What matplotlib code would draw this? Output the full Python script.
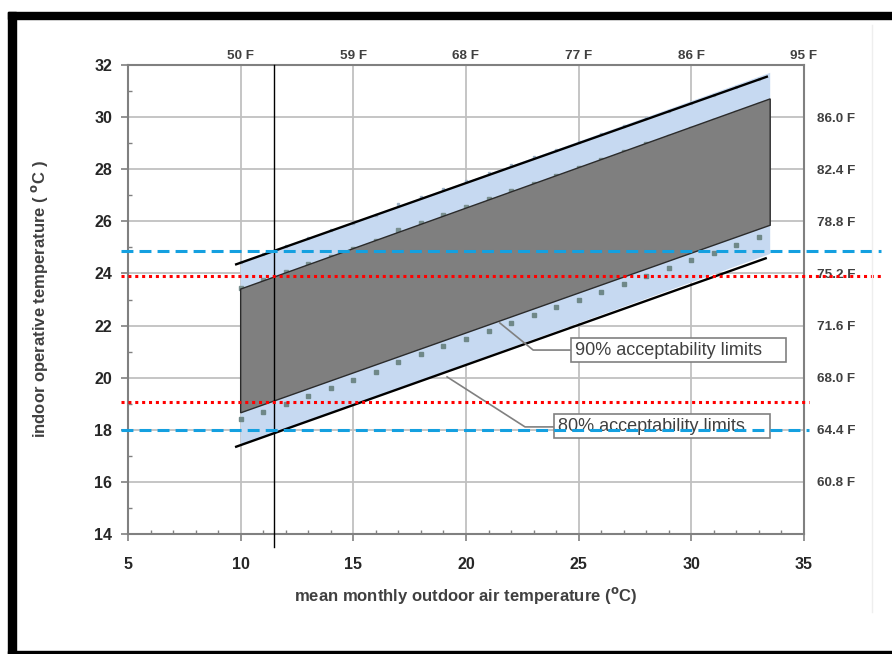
import matplotlib.pyplot as plt
from matplotlib.patches import Rectangle, Polygon

plt.rcParams['font.family'] = ['Liberation Sans', 'DejaVu Sans']

# outdoor temperature of the marker points (C)
t_out = [10, 11, 12, 13, 14, 15, 16, 17, 18, 19, 20, 21,
         22, 23, 24, 25, 26, 27, 28, 29, 30, 31, 32, 33]
# marker series
upper_80_pts = [24.45, 24.75, 25.05, 25.35, 25.65, 25.95, 26.25, 26.65, 26.95, 27.25, 27.55, 27.85,
                28.15, 28.45, 28.75, 29.05, 29.35, 29.65, 29.95, 30.25, 30.55, 30.85, 31.15, 31.45]
upper_90_pts = [23.45, 23.75, 24.05, 24.35, 24.65, 24.95, 25.25, 25.65, 25.95, 26.25, 26.55, 26.85,
                27.15, 27.45, 27.75, 28.05, 28.35, 28.65, 28.95, 29.25, 29.55, 29.85, 30.15, 30.45]
lower_90_pts = [18.4, 18.7, 19.0, 19.3, 19.6, 19.9, 20.2, 20.6, 20.9, 21.2, 21.5, 21.8,
                22.1, 22.4, 22.7, 23.0, 23.3, 23.6, 23.9, 24.2, 24.5, 24.8, 25.1, 25.4]

# limit lines (end points)
upper_80_x = [9.8, 33.35]
upper_80_y = [24.35, 31.55]
lower_80_x = [9.8, 33.3]
lower_80_y = [17.35, 24.58]
band_x = [10, 33.5]
band80_top = [24.4, 31.7]
band80_bot = [17.4, 24.75]
band90_top = [23.4, 30.7]
band90_bot = [18.65, 25.85]

# horizontal reference lines
blue_levels = [24.85, 18.0]
blue_ends = [38.4, 35.2]
red_levels = [23.9, 19.07]
red_ends = [38.4, 35.2]
line_start = 4.69
marker_x = 11.5

y_ticks = [14, 16, 18, 20, 22, 24, 26, 28, 30, 32]
x_ticks = [5, 10, 15, 20, 25, 30, 35]
f_top = [50, 59, 68, 77, 86, 95]
f_right = [60.8, 64.4, 68.0, 71.6, 75.2, 78.8, 82.4, 86.0]

W, H = 892, 654
fig = plt.figure(figsize=(W / 100, H / 100), dpi=100)
ax = fig.add_axes([128 / W, 1 - 534 / H, (804 - 128) / W, (534 - 65) / H])
ax.set_xlim(5, 35)
ax.set_ylim(14, 32)

# frame around the picture
fig.add_artist(Rectangle((8 / W, 0), 8 / W, (H - 12) / H, transform=fig.transFigure,
                         color='black', zorder=10))
fig.add_artist(Rectangle((8 / W, 1 - 19 / H), 1, 7 / H, transform=fig.transFigure,
                         color='black', zorder=10))
fig.add_artist(Rectangle((8 / W, 0), 1, 3 / H, transform=fig.transFigure,
                         color='black', zorder=10))
fig.add_artist(plt.Line2D([872 / W, 872 / W], [1 - 612 / H, 1 - 25 / H],
                          transform=fig.transFigure, color='#eeeeee', lw=1))

# bands
ax.add_patch(Polygon([(band_x[0], band80_bot[0]), (band_x[0], band80_top[0]),
                      (band_x[1], band80_top[1]), (band_x[1], band80_bot[1])],
                     closed=True, facecolor='#c6d9f1', edgecolor='none', zorder=1))
ax.plot(t_out, upper_80_pts, 's', ms=1.8, color='#9fb4c8', zorder=2)
ax.plot(t_out, upper_90_pts, 's', ms=2.6, color='#7a9090', zorder=2)
ax.plot(t_out, lower_90_pts, 's', ms=3.3, color='#6f8888', zorder=2)
ax.add_patch(Polygon([(band_x[0], band90_bot[0]), (band_x[0], band90_top[0]),
                      (band_x[1], band90_top[1]), (band_x[1], band90_bot[1])],
                     closed=True, facecolor='#7f7f7f', edgecolor='#2b2b2b', lw=1, zorder=3))
ax.plot(upper_80_x, upper_80_y, color='black', lw=1.7, zorder=4)
ax.plot(lower_80_x, lower_80_y, color='black', lw=1.7, zorder=4)

ax.plot([marker_x, marker_x], [32, 13.5], color='black', lw=1, zorder=5, clip_on=False)

# annotations
ax.plot([21.5, 22.98, 24.65], [22.1, 21.06, 21.06], color='#808080', lw=1.2, zorder=5)
ax.plot([19.16, 22.62, 23.91], [20.03, 18.11, 18.11], color='#808080', lw=1.2, zorder=5)
ax.add_patch(Rectangle((24.65, 20.61), 34.19 - 24.65, 0.91, facecolor='white',
                       edgecolor='#808080', lw=1.2, zorder=6))
ax.add_patch(Rectangle((23.91, 17.69), 33.5 - 23.91, 0.92, facecolor='white',
                       edgecolor='#808080', lw=1.2, zorder=6))
ax.text(24.82, 21.03, '90% acceptability limits', fontsize=13, color='#404040',
        va='center', ha='left', zorder=7)
ax.text(24.08, 18.12, '80% acceptability limits', fontsize=13, color='#404040',
        va='center', ha='left', zorder=7)

# horizontal reference lines
for lvl, end in zip(red_levels, red_ends):
    ax.plot([line_start, end], [lvl, lvl], color='#ff0000', lw=2.2,
            linestyle=(0, (1, 1.25)), zorder=8, clip_on=False)
for lvl, end in zip(blue_levels, blue_ends):
    ax.plot([line_start, end], [lvl, lvl], color='#14a0e0', lw=2.2,
            linestyle=(0, (3.9, 2.0)), zorder=8, clip_on=False)

# axes styling
for s in ax.spines.values():
    s.set_color('#808080')
    s.set_linewidth(1.5)
ax.set_xticks(x_ticks)
ax.set_yticks(y_ticks)
ax.set_xticks(range(5, 36), minor=True)
ax.set_yticks(range(15, 32, 2), minor=True)
ax.grid(True, which='major', color='#c0c0c0', lw=1.3, zorder=0)
ax.set_axisbelow(True)
ax.tick_params(which='major', direction='out', length=5, width=1.2, color='#808080',
               labelsize=11.5, labelcolor='#262626')
ax.tick_params(axis='x', which='major', pad=11.5)
ax.tick_params(axis='y', which='major', pad=6.5)
ax.tick_params(which='minor', direction='in', length=3, width=1, color='#808080')
for lab in ax.get_xticklabels() + ax.get_yticklabels():
    lab.set_fontweight('bold')

secx = ax.secondary_xaxis('top', functions=(lambda c: c * 9 / 5 + 32, lambda f: (f - 32) * 5 / 9))
secx.set_xticks(f_top, [f'{v} F' for v in f_top])
secx.tick_params(length=0, pad=2, labelsize=9.7, labelcolor='#404040')
secy = ax.secondary_yaxis('right', functions=(lambda c: c * 9 / 5 + 32, lambda f: (f - 32) * 5 / 9))
secy.set_yticks(f_right, [f'{v:.1f} F' for v in f_right])
secy.tick_params(length=0, pad=9.4, labelsize=9.7, labelcolor='#404040')
for sec in (secx, secy):
    sec.spines[:].set_visible(False)
    for lab in (sec.get_xticklabels() if sec is secx else sec.get_yticklabels()):
        lab.set_fontweight('bold')

fig.text(466 / W, 1 - 595 / H, 'mean monthly outdoor air temperature ($\\mathbf{^{o}}$C)',
         ha='center', va='center', fontsize=12, fontweight='bold', color='#404040')
fig.text(40 / W, 1 - 299 / H, 'indoor operative temperature ( $\\mathbf{^{o}}$C )',
         ha='center', va='center', rotation=90, fontsize=12, fontweight='bold', color='#404040')

fig.savefig('out.png', dpi=100)
